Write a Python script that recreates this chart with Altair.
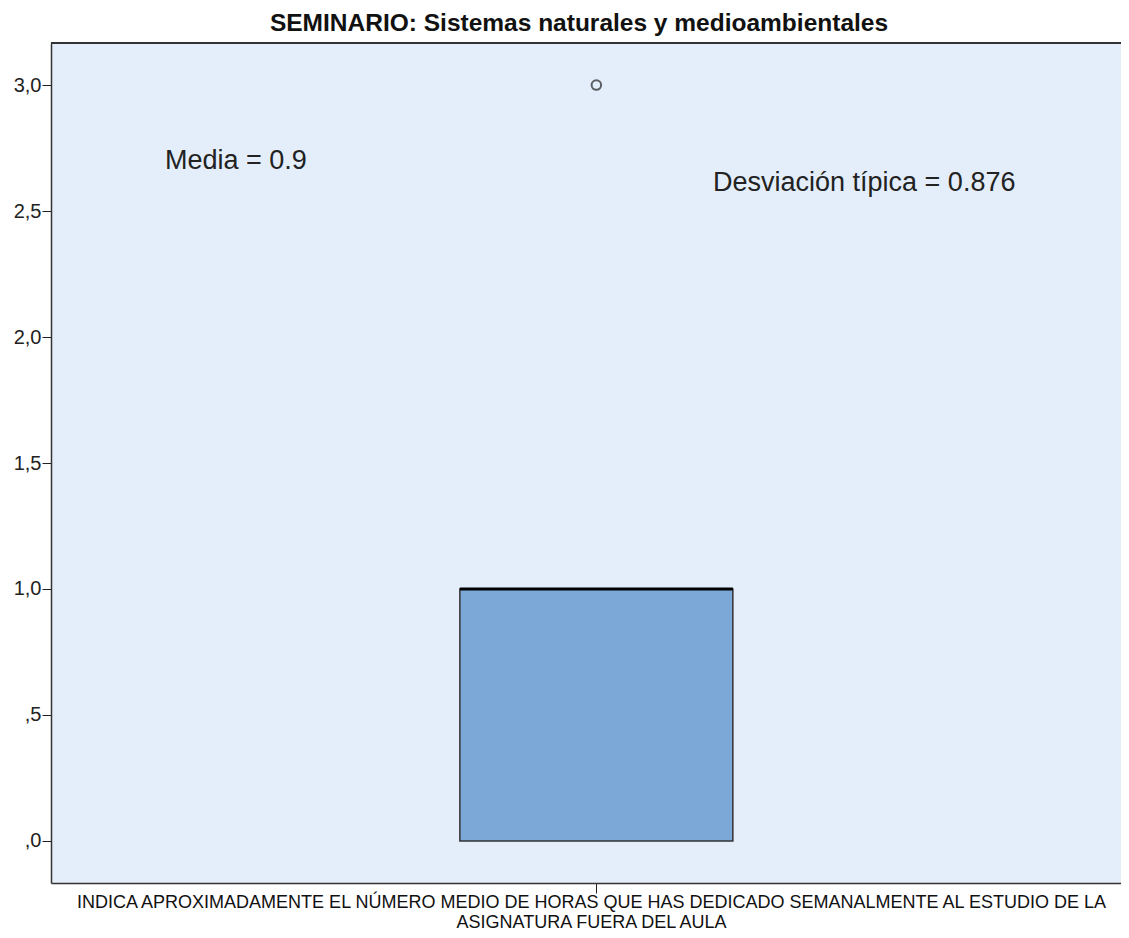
import altair as alt
import pandas as pd

# ---- data ----
category = ["INDICA APROXIMADAMENTE EL NÚMERO MEDIO DE HORAS QUE HAS DEDICADO SEMANALMENTE AL ESTUDIO DE LA ASIGNATURA FUERA DEL AULA"]
axis_title_lines = ["INDICA APROXIMADAMENTE EL NÚMERO MEDIO DE HORAS QUE HAS DEDICADO SEMANALMENTE AL ESTUDIO DE LA",
                    "ASIGNATURA FUERA DEL AULA"]
q1 = [0.0]
median = [1.0]
q3 = [1.0]
whisker_low = [0.0]
whisker_high = [1.0]
outlier_values = [3.0]
y_tick_values = [0.0, 0.5, 1.0, 1.5, 2.0, 2.5, 3.0]
y_domain = [-0.167, 3.167]
note_texts = ["Media = 0.9", "Desviación típica = 0.876"]
note_y = [2.70, 2.61]
title_text = "SEMINARIO: Sistemas naturales y medioambientales"

box_df = pd.DataFrame({"var": category, "q1": q1, "median": median, "q3": q3,
                       "lo": whisker_low, "hi": whisker_high})
out_df = pd.DataFrame({"var": category * len(outlier_values), "value": outlier_values})
note_df = pd.DataFrame({"text": note_texts, "y": note_y})

W, H = 1070, 840
FONT = "Liberation Sans"
BG = "#E3EEFA"
BOX = "#7BA8D6"
FRAME = "#333"

xscale = alt.Scale(paddingInner=0.315, paddingOuter=1, align=0.513)
yscale = alt.Scale(domain=y_domain, nice=False, zero=False)

x_enc = alt.X("var:N", scale=xscale,
              axis=alt.Axis(labels=False, title=axis_title_lines, tickSize=10,
                            tickColor="#222", domainColor=FRAME, domainWidth=1.5,
                            titleFont=FONT, titleFontSize=18, titleFontWeight="normal",
                            titleColor="#111", titlePadding=0, titleLineHeight=19.5,
                            titleX=540))
y_axis = alt.Axis(values=y_tick_values, grid=False, title=None, tickSize=9,
                  tickColor="#222", domainColor=FRAME, domainWidth=1.5,
                  labelFont=FONT, labelFontSize=20, labelColor="#222", labelPadding=1,
                  labelExpr="(datum.value < 1 ? '' : floor(datum.value)) + ',' + (round(datum.value*10) % 10)")

base = alt.Chart(box_df)

box = base.mark_bar(fill=BOX, stroke="#333", strokeWidth=1.5).encode(
    x=x_enc,
    y=alt.Y("q1:Q", scale=yscale, axis=y_axis),
    y2="q3:Q",
)
whisk = base.mark_rule(color="#333", strokeWidth=1.5).encode(
    x="var:N", y="lo:Q", y2="hi:Q"
)
med = base.mark_bar(fill=BOX, stroke="#000", strokeWidth=3).encode(
    x="var:N", y="median:Q", y2="median:Q"
)
outl = alt.Chart(out_df).mark_point(shape="circle", filled=False, size=90,
                                    stroke="#222", strokeWidth=2).encode(
    x="var:N", y="value:Q"
)
note1 = alt.Chart(note_df.iloc[[0]]).mark_text(align="left", baseline="middle", font=FONT,
                                               fontSize=27, color="#222", dx=114).encode(
    x=alt.value(0), y="y:Q", text="text:N")
note2 = alt.Chart(note_df.iloc[[1]]).mark_text(align="left", baseline="middle", font=FONT,
                                               fontSize=27, color="#222", dx=662).encode(
    x=alt.value(0), y="y:Q", text="text:N")
# top frame line of the plot area (the reference is cropped on the right)
top_frame = base.mark_rule(color=FRAME, strokeWidth=2).encode(
    x=alt.value(0), x2=alt.value(W), y=alt.value(0)
)

chart = alt.layer(whisk, box, med, outl, note1, note2, top_frame).properties(
    width=W, height=H,
    autosize=alt.AutoSizeParams(type="none"),
    padding={"left": 43, "top": 35, "right": 0, "bottom": 47},
    title=alt.TitleParams(title_text, font=FONT, fontSize=24.5, fontWeight="bold",
                          color="#111", anchor="middle", offset=6, dx=-7),
).configure_view(fill=BG, strokeWidth=0)

chart.save("out.html", embed_options={"renderer": "svg", "actions": False})
